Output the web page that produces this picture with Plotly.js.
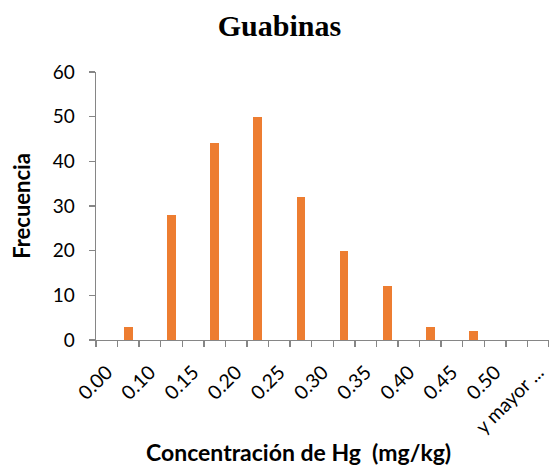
<!DOCTYPE html>
<html>
<head>
<meta charset="utf-8">
<script src="https://cdn.plot.ly/plotly-3.0.1.min.js"></script>
<style>
html,body{margin:0;padding:0;overflow:hidden;background:#fff;}
#chart{width:549px;height:471px;}
</style>
</head>
<body>
<div id="chart"></div>
<script>
// Bin labels (x axis)
var binLabels = ['0.00','0.10','0.15','0.20','0.25','0.30','0.35','0.40','0.45','0.50','y mayor ...'];
// Frequencies, each bar sits between two consecutive labels
var frequencies = [3, 28, 44, 50, 32, 20, 12, 3, 2, 0];
var xTitle = 'Concentración de Hg\u00a0\u00a0(mg/kg)';
var yTitle = 'Frecuencia';
var chartTitle = 'Guabinas';

var labelPos = binLabels.map(function(_, i){ return 2*i; });
var barPos = frequencies.map(function(_, i){ return 2*i + 1; });
var boundaries = [];
for (var k = 0; k <= 2*(binLabels.length-1)+1; k++) boundaries.push(k - 0.5);

var axisColor = '#868686';
var trace = {
  type: 'bar',
  x: barPos,
  y: frequencies,
  width: 0.4,
  marker: {color: '#ED7D31'},
  hoverinfo: 'y'
};

var layout = {
  width: 549, height: 471,
  margin: {l: 96, r: 0, t: 72, b: 131},
  paper_bgcolor: '#fff', plot_bgcolor: '#fff',
  showlegend: false,
  title: {
    text: '<b>' + chartTitle + '</b>',
    font: {family: 'Liberation Serif, Times New Roman, serif', size: 30, color: '#000'},
    x: 0.509, xanchor: 'center', y: 0.945, yanchor: 'middle'
  },
  xaxis: {
    range: [-0.5, 20.5],
    tickmode: 'array', tickvals: labelPos, ticktext: binLabels,
    ticks: '', tickangle: -45,
    ticklabeloverflow: 'allow',
    ticklabelstandoff: 12,
    tickfont: {family: 'Lato, sans-serif', size: 19.5, color: '#000'},
    showgrid: false, zeroline: false,
    showline: true, linecolor: axisColor, linewidth: 1.3,
    minor: {tickmode: 'array', tickvals: boundaries, ticks: 'outside', ticklen: 6, tickcolor: axisColor, tickwidth: 1.3, showgrid: false}
  },
  yaxis: {
    range: [0, 60], dtick: 10, tick0: 0,
    ticks: 'outside', ticklen: 6, tickcolor: axisColor, tickwidth: 1.3,
    ticklabelstandoff: 10,
    tickfont: {family: 'Lato, sans-serif', size: 19, color: '#000'},
    showgrid: false, zeroline: false,
    showline: true, linecolor: axisColor, linewidth: 1.3,
    title: {text: '<b>' + yTitle + '</b>', font: {family: 'Lato, sans-serif', size: 22, color: '#000'}, standoff: 16}
  },
  annotations: [{
    text: '<b>' + xTitle + '</b>',
    xref: 'paper', yref: 'paper',
    x: (298.5 - 96) / 453, y: -(452 - 340) / 268,
    xanchor: 'center', yanchor: 'middle', showarrow: false,
    font: {family: 'Lato, sans-serif', size: 23, color: '#000'}
  }],
  bargap: 0
};

Plotly.newPlot('chart', [trace], layout, {staticPlot: true, displayModeBar: false});
</script>
</body>
</html>
